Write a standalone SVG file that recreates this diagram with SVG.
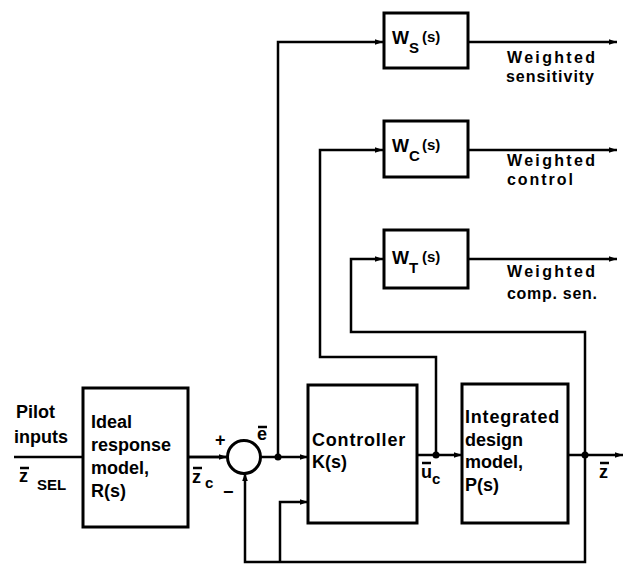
<svg xmlns="http://www.w3.org/2000/svg" width="625" height="567" viewBox="0 0 625 567">
<defs>
<marker id="ah" viewBox="0 0 10 10" refX="10" refY="5" markerWidth="10" markerHeight="8" markerUnits="userSpaceOnUse" orient="auto">
<path d="M0,1.5 L10,5 L0,8.5 Z" fill="#000"/>
</marker>
</defs>
<style>
.box{fill:#fff;stroke:#000;stroke-width:3}
.ln{fill:none;stroke:#000;stroke-width:2.5}
.t{font-family:"Liberation Sans",Arial,sans-serif;font-weight:bold;font-size:18px;fill:#000}
.s{font-family:"Liberation Sans",Arial,sans-serif;font-weight:bold;font-size:15px;fill:#000}
.w{font-family:"Liberation Sans",Arial,sans-serif;font-weight:bold;font-size:16px;fill:#000}
.dot{fill:#000}
</style>
<rect width="625" height="567" fill="#fff"/>
<g id="connectors">
<path class="ln" d="M14,457 H248" marker-end="url(#ah)"/>
<path class="ln" d="M188,457 H227" marker-end="url(#ah)"/>
<path class="ln" d="M261,457 H308" marker-end="url(#ah)"/>
<path class="ln" d="M278,457 V42 H383" marker-end="url(#ah)"/>
<path class="ln" d="M468,42 H617" marker-end="url(#ah)"/>
<path class="ln" d="M468,150 H617" marker-end="url(#ah)"/>
<path class="ln" d="M468,259 H617" marker-end="url(#ah)"/>
<path class="ln" d="M417,455 H462" marker-end="url(#ah)"/>
<path class="ln" d="M436,455 V357 H320 V150 H383" marker-end="url(#ah)"/>
<path class="ln" d="M568,455 H623" marker-end="url(#ah)"/>
<path class="ln" d="M585,455 V332 H351 V259 H383" marker-end="url(#ah)"/>
<path class="ln" d="M585,455 V562 H245 V473" marker-end="url(#ah)"/>
<path class="ln" d="M280,562 V502 H308" marker-end="url(#ah)"/>
<circle class="dot" cx="278" cy="457" r="3.5"/>
<circle class="dot" cx="436" cy="455" r="3.5"/>
<circle class="dot" cx="585" cy="455" r="3.5"/>
</g>
<g id="input-label">
<text class="t" x="16" y="418">Pilot</text>
<text class="t" x="14" y="443">inputs</text>
<text class="t" x="19" y="482">z</text>
<line class="ln" x1="20" y1="468" x2="29" y2="468" stroke-width="2"/>
<text class="s" x="37" y="490">SEL</text>
</g>
<g id="ideal-model">
<rect class="box" x="83" y="388" width="105" height="139"/>
<text class="t" x="91" y="428">Ideal</text>
<text class="t" x="91" y="451">response</text>
<text class="t" x="91" y="474">model,</text>
<text class="t" x="91" y="497">R(s)</text>
</g>
<g id="zc-label">
<text class="t" x="192" y="483">z</text>
<line class="ln" x1="193" y1="468" x2="202" y2="468" stroke-width="2"/>
<text class="s" x="205" y="488">c</text>
</g>
<g id="sum">
<circle cx="244" cy="457" r="16.5" fill="#fff" stroke="#000" stroke-width="3"/>
<text class="t" x="215" y="446">+</text>
<text class="t" x="223" y="498">−</text>
</g>
<g id="e-label">
<text class="t" x="257" y="440">e</text>
<line class="ln" x1="258" y1="427" x2="267" y2="427" stroke-width="2"/>
</g>
<g id="controller">
<rect class="box" x="308" y="385" width="109" height="138"/>
<text class="t" x="312" y="446" letter-spacing="0.8">Controller</text>
<text class="t" x="312" y="468">K(s)</text>
</g>
<g id="uc-label">
<text class="t" x="421" y="478">u</text>
<line class="ln" x1="422" y1="463" x2="431" y2="463" stroke-width="2"/>
<text class="s" x="432" y="484">c</text>
</g>
<g id="plant">
<rect class="box" x="462" y="384" width="106" height="139"/>
<text class="t" x="465" y="423" letter-spacing="0.8">Integrated</text>
<text class="t" x="465" y="446">design</text>
<text class="t" x="465" y="468">model,</text>
<text class="t" x="465" y="491">P(s)</text>
</g>
<g id="z-label">
<text class="t" x="599" y="478">z</text>
<line class="ln" x1="600" y1="463" x2="609" y2="463" stroke-width="2"/>
</g>
<g id="Ws">
<rect class="box" x="384" y="13" width="84" height="55"/>
<text class="t" x="392" y="44">W</text>
<text class="s" x="409" y="53">S</text>
<text class="s" x="422" y="42">(s)</text>
</g>
<g id="Wc">
<rect class="box" x="384" y="121" width="84" height="56"/>
<text class="t" x="392" y="152">W</text>
<text class="s" x="409" y="161">C</text>
<text class="s" x="422" y="150">(s)</text>
</g>
<g id="Wt">
<rect class="box" x="384" y="230" width="84" height="58"/>
<text class="t" x="392" y="264">W</text>
<text class="s" x="409" y="273">T</text>
<text class="s" x="422" y="262">(s)</text>
</g>
<g id="output-labels">
<text class="w" x="507" y="63" textLength="88">Weighted</text>
<text class="w" x="506" y="82" textLength="88">sensitivity</text>
<text class="w" x="507" y="166" textLength="88">Weighted</text>
<text class="w" x="507" y="185" textLength="66">control</text>
<text class="w" x="507" y="277" textLength="88">Weighted</text>
<text class="w" x="507" y="299" textLength="90">comp. sen.</text>
</g>
</svg>
